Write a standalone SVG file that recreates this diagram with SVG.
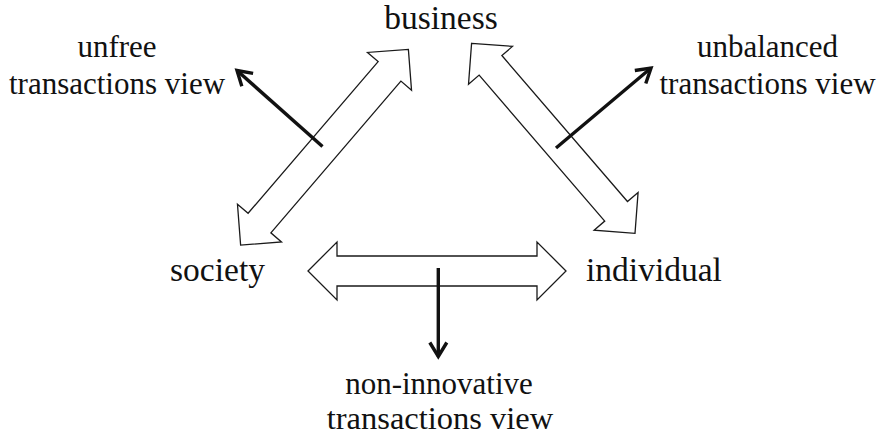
<svg xmlns="http://www.w3.org/2000/svg" width="881" height="434" viewBox="0 0 881 434">
  <style>
    .label { font-family: "Liberation Serif", "Times New Roman", serif; fill: #111111; text-anchor: middle; }
    .node { font-size: 33.5px; }
    .view { font-size: 31px; }
    .dbl { fill: #ffffff; stroke: #1a1a1a; stroke-width: 1.3; stroke-linejoin: miter; }
    .dir { fill: none; stroke: #111111; stroke-width: 3.4; }
  </style>
  <defs>
    <marker id="chev" markerUnits="userSpaceOnUse" markerWidth="30" markerHeight="30" viewBox="-20 -15 30 30" refX="0" refY="0" orient="auto">
      <path d="M-14,-8.5 L0,0 L-14,8.5" fill="none" stroke="#111111" stroke-width="3.4" stroke-linejoin="miter"/>
    </marker>
  </defs>

  <rect width="881" height="434" fill="#ffffff"/>

  <!-- two-way relation arrows between the three parties -->
  <g id="connectors">
    <polygon class="dbl" transform="translate(324.5 147.2) rotate(-49.4)"
      points="-128.9,0 -99.9,-29 -99.9,-15 99.9,-15 99.9,-29 128.9,0 99.9,29 99.9,15 -99.9,15 -99.9,29"/>
    <polygon class="dbl" transform="translate(553.3 138.3) rotate(49.3)"
      points="-125.3,0 -96.3,-29 -96.3,-15 96.3,-15 96.3,-29 125.3,0 96.3,29 96.3,15 -96.3,15 -96.3,29"/>
    <polygon class="dbl" transform="translate(437 271)"
      points="-129,0 -100,-29 -100,-15 100,-15 100,-29 129,0 100,29 100,15 -100,15 -100,29"/>

    <!-- views pointing away from each relation -->
    <line class="dir" x1="322.5" y1="146.5" x2="237" y2="70.5" marker-end="url(#chev)"/>
    <line class="dir" x1="556" y1="148" x2="651" y2="68" marker-end="url(#chev)"/>
    <line class="dir" x1="438.3" y1="268" x2="438.3" y2="356.5" marker-end="url(#chev)"/>
  </g>

  <g id="business">
    <text class="label node" x="441" y="29">business</text>
  </g>
  <g id="society">
    <text class="label node" x="217.5" y="281">society</text>
  </g>
  <g id="individual">
    <text class="label node" x="654" y="281">individual</text>
  </g>

  <g id="unfree-view">
    <text class="label view" x="117" y="56.5">unfree</text>
    <text class="label view" x="117" y="93.5">transactions view</text>
  </g>
  <g id="unbalanced-view">
    <text class="label view" x="767.5" y="56.5">unbalanced</text>
    <text class="label view" x="767.5" y="93.5">transactions view</text>
  </g>
  <g id="non-innovative-view">
    <text class="label view" x="439" y="394">non-innovative</text>
    <text class="label view" x="440" y="428.5" style="font-size:32.5px">transactions view</text>
  </g>
</svg>
